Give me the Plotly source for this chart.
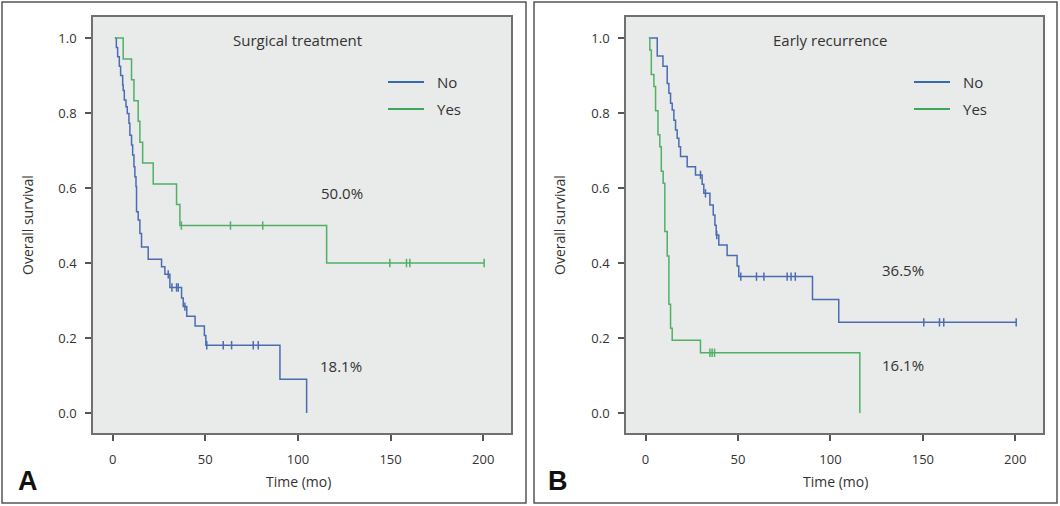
import numpy as np
import plotly.graph_objects as go

# ---------------- Data ----------------
# Panel A: Surgical treatment
a_no_start = 1.2
a_no_times = [2.0, 2.7, 3.6, 4.3, 5.4, 5.7, 6.3, 7.2, 7.9, 8.8, 9.3, 10.2, 10.8, 11.5, 12.0,
              12.6, 12.9, 13.8, 14.7, 15.6, 19.2, 26.4, 28.2, 30.9, 37.2, 38.1, 40.0, 44.5,
              49.5, 50.3, 90.3, 104.7]
a_no_surv = [0.975, 0.950, 0.925, 0.900, 0.875, 0.860, 0.835, 0.817, 0.799, 0.773, 0.741,
             0.715, 0.688, 0.657, 0.630, 0.604, 0.537, 0.515, 0.479, 0.443, 0.410, 0.390,
             0.370, 0.335, 0.307, 0.284, 0.258, 0.232, 0.207, 0.181, 0.090, 0.0]
a_no_cens = [30.0, 32.0, 34.5, 35.4, 39.0, 50.8, 59.7, 64.2, 75.9, 78.6]

a_yes_start = 1.2
a_yes_times = [5.7, 10.2, 11.5, 13.8, 14.7, 16.2, 21.9, 34.5, 36.3, 115.5]
a_yes_surv = [0.944, 0.889, 0.833, 0.778, 0.722, 0.667, 0.611, 0.556, 0.500, 0.400]
a_yes_cens = [37.1, 63.6, 81.0, 149.6, 158.6, 160.4, 200.5]

# Panel B: Early recurrence
b_no_start = 1.8
b_no_times = [6.3, 9.4, 11.7, 12.6, 13.5, 14.4, 15.3, 16.2, 17.1, 18.0, 18.9, 22.5, 27.0,
              30.6, 31.5, 34.8, 36.6, 37.5, 38.2, 39.6, 44.1, 49.5, 50.4, 90.3, 104.5]
b_no_surv = [0.952, 0.925, 0.879, 0.853, 0.826, 0.808, 0.781, 0.755, 0.733, 0.710, 0.684,
             0.657, 0.635, 0.610, 0.586, 0.555, 0.528, 0.501, 0.475, 0.448, 0.420, 0.392,
             0.364, 0.303, 0.242]
b_no_cens = [29.7, 32.4, 38.5, 51.5, 60.0, 64.0, 76.6, 78.7, 81.0, 150.5, 159.0, 161.3, 200.5]

b_yes_start = 1.8
b_yes_times = [2.3, 3.1, 4.5, 5.4, 6.7, 7.7, 8.5, 9.5, 10.4, 11.7, 12.6, 13.5, 14.4, 29.7, 115.9]
b_yes_surv = [0.968, 0.903, 0.871, 0.806, 0.742, 0.710, 0.645, 0.613, 0.484, 0.419, 0.290,
              0.226, 0.194, 0.161, 0.0]
b_yes_cens = [34.8, 36.0, 37.3]

group_names = ["No", "Yes"]
panel_titles = ["Surgical treatment", "Early recurrence"]
panel_letters = ["A", "B"]
pct_labels = [["18.1%", "50.0%"], ["36.5%", "16.1%"]]
pct_pos = [[(123, 0.125), (124, 0.587)], [(139.5, 0.381), (139.5, 0.128)]]
x_ticks = [0, 50, 100, 150, 200]
y_ticks = [0.0, 0.2, 0.4, 0.6, 0.8, 1.0]

BLUE = "#4c6cb2"
GREEN = "#4fb066"
LEG_BLUE = "#3569b0"
LEG_GREEN = "#3da757"
FONT = "Open Sans"
TXT = "#333333"


def km_line(start, times, surv, cens):
    x = [start] + list(times)
    y = [1.0] + list(surv)
    if len(cens) and max(cens) > times[-1] and surv[-1] > 0:
        x.append(max(cens))
        y.append(surv[-1])
    return x, y


def cens_y(times, surv, cens):
    t = np.asarray(times)
    s = np.asarray(surv)
    out = []
    for c in cens:
        i = np.searchsorted(t, c, side="right")
        out.append(1.0 if i == 0 else float(s[i - 1]))
    return out


fig = go.Figure()

panels = [
    [(a_no_start, a_no_times, a_no_surv, a_no_cens), (a_yes_start, a_yes_times, a_yes_surv, a_yes_cens)],
    [(b_no_start, b_no_times, b_no_surv, b_no_cens), (b_yes_start, b_yes_times, b_yes_surv, b_yes_cens)],
]
colors = [BLUE, GREEN]
axes = [("x", "y"), ("x2", "y2")]

for p, groups in enumerate(panels):
    xa, ya = axes[p]
    for g, (st, tt, ss, cc) in enumerate(groups):
        x, y = km_line(st, tt, ss, cc)
        fig.add_trace(go.Scatter(
            x=x, y=y, mode="lines", line=dict(color=colors[g], width=1.5, shape="hv"),
            name=group_names[g], xaxis=xa, yaxis=ya, showlegend=False, hoverinfo="skip"))
        fig.add_trace(go.Scatter(
            x=cc, y=cens_y(tt, ss, cc), mode="markers",
            marker=dict(symbol="line-ns-open", size=6, color=colors[g],
                        line=dict(color=colors[g], width=1.5)),
            xaxis=xa, yaxis=ya, showlegend=False, hoverinfo="skip"))

W, H = 1060, 506
px = lambda v: v / W
py = lambda v: 1 - v / H

ax_common = dict(
    showgrid=False, zeroline=False, showline=True, mirror=True,
    linecolor="#707070", linewidth=1.5,
    ticks="outside", ticklen=6, tickwidth=1.5, tickcolor="#555555",
    tickfont=dict(family=FONT, size=13, color=TXT),
)

fig.update_layout(
    width=W, height=H,
    margin=dict(l=0, r=0, t=0, b=0),
    paper_bgcolor="white",
    plot_bgcolor="#e9eaea",
    showlegend=False,
    xaxis=dict(domain=[px(93), px(511)], range=[-10.6, 215], tickvals=x_ticks,
               anchor="y", ticklabelstandoff=8, **ax_common),
    yaxis=dict(domain=[py(433), py(17)], range=[-0.053, 1.056], tickvals=y_ticks,
               tickformat=".1f", anchor="x", ticklabelstandoff=6, **ax_common),
    xaxis2=dict(domain=[px(626), px(1043)], range=[-10.6, 215], tickvals=x_ticks,
                anchor="y2", ticklabelstandoff=8, **ax_common),
    yaxis2=dict(domain=[py(433), py(17)], range=[-0.053, 1.056], tickvals=y_ticks,
                tickformat=".1f", anchor="x2", ticklabelstandoff=6, **ax_common),
)

# panel frames and legend keys
shapes = []
for (x0, x1) in [(2, 526), (534, 1057)]:
    shapes.append(dict(type="rect", xref="paper", yref="paper",
                       x0=px(x0), x1=px(x1), y0=py(503), y1=py(2),
                       line=dict(color="#555555", width=1.5), fillcolor="rgba(0,0,0,0)",
                       layer="below"))
leg_x0 = [388, 914]
leg_y = [82, 109]
leg_cols = [LEG_BLUE, LEG_GREEN]
for p in range(2):
    for g in range(2):
        shapes.append(dict(type="line", xref="paper", yref="paper",
                           x0=px(leg_x0[p]), x1=px(leg_x0[p] + 36), y0=py(leg_y[g]), y1=py(leg_y[g]),
                           line=dict(color=leg_cols[g], width=2)))
fig.update_layout(shapes=shapes)

ann = []
xaxes = ["x", "x2"]
yaxes = ["y", "y2"]
centers = [298, 835]
ylab_x = [27, 559]
letter_x = [28, 558]
for p in range(2):
    ann.append(dict(text=panel_titles[p], x=100, y=0.995, xref=xaxes[p], yref=yaxes[p],
                    showarrow=False, xanchor="center", yanchor="middle",
                    font=dict(family=FONT, size=15, color=TXT)))
    for g in range(2):
        tx, ty = pct_pos[p][g]
        ann.append(dict(text=pct_labels[p][g], x=tx, y=ty, xref=xaxes[p], yref=yaxes[p],
                        showarrow=False, xanchor="center", yanchor="middle",
                        font=dict(family=FONT, size=15, color=TXT)))
        ann.append(dict(text=group_names[g], x=px(leg_x0[p] + 47), y=py(leg_y[g]),
                        xref="paper", yref="paper", showarrow=False,
                        xanchor="left", yanchor="middle",
                        font=dict(family=FONT, size=15, color=TXT)))
    ann.append(dict(text="Time (mo)", x=px(centers[p]), y=py(481), xref="paper", yref="paper",
                    showarrow=False, xanchor="center", yanchor="middle",
                    font=dict(family=FONT, size=14, color=TXT)))
    ann.append(dict(text="Overall survival", x=px(ylab_x[p]), y=py(225), xref="paper", yref="paper",
                    showarrow=False, xanchor="center", yanchor="middle", textangle=-90,
                    font=dict(family=FONT, size=14, color=TXT)))
    ann.append(dict(text="<b>" + panel_letters[p] + "</b>", x=px(letter_x[p]), y=py(481),
                    xref="paper", yref="paper", showarrow=False, xanchor="center", yanchor="middle",
                    font=dict(family="Liberation Sans", size=27, color="#111111")))
fig.update_layout(annotations=ann)

fig.write_html("out.html", config={"displayModeBar": False},
               post_script="document.body.style.margin='0';document.body.style.overflow='hidden';")
